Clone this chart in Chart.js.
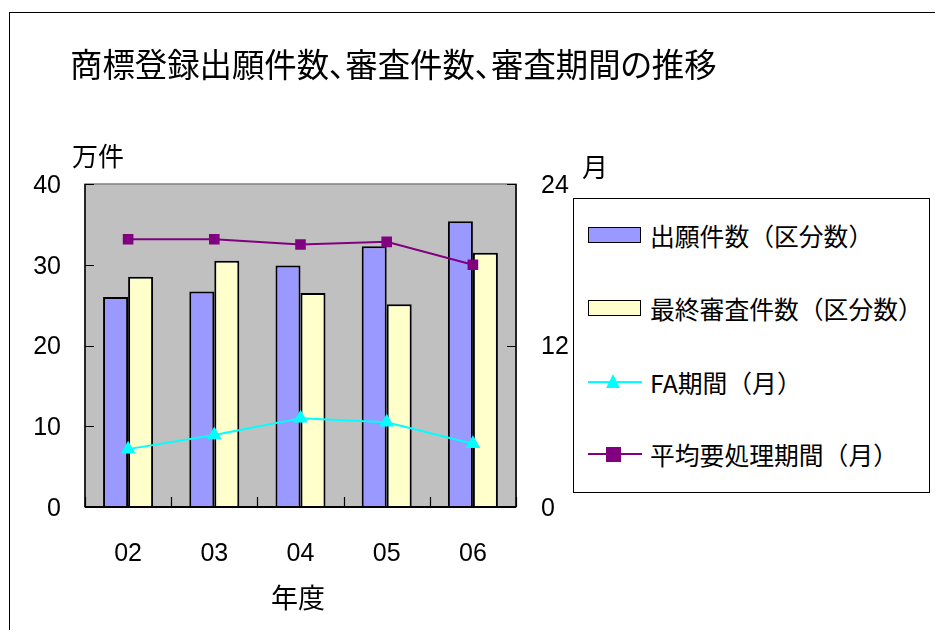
<!DOCTYPE html>
<html>
<head>
<meta charset="utf-8">
<script src="https://cdn.jsdelivr.net/npm/chart.js@4/dist/chart.umd.min.js"></script>
<style>
  html, body { margin: 0; padding: 0; background: #fff; }
  #wrap { position: relative; width: 935px; height: 630px; overflow: hidden; font-family: "Noto Sans CJK JP", sans-serif; color: #000; }
  #frame { position: absolute; left: 9px; top: 12px; width: 1000px; height: 700px; border-left: 1.5px solid #000; border-top: 1.5px solid #000; }
  canvas { position: absolute; left: 0; top: 0; }
  .txt { position: absolute; white-space: nowrap; line-height: 1; }
  #title { left: 70px; top: 47px; font-size: 32.4px; font-feature-settings: "palt"; }
  #uLeft { left: 72px; top: 142px; font-size: 26px; }
  #uRight { left: 582px; top: 153px; font-size: 26px; }
  #xTitle { left: 271px; top: 583px; font-size: 27px; }
  #legend { position: absolute; left: 573px; top: 198px; width: 355px; height: 293px; border: 1.5px solid #000; background: #fff; }
  .item { position: absolute; left: 14px; height: 30px; }
  .item .lab { position: absolute; left: 62px; top: 0; font-size: 24.8px; line-height: 30px; white-space: nowrap; }
  .sw { position: absolute; left: 0; top: 7px; width: 51px; height: 14px; border: 1.5px solid #000; }
  .ln { position: absolute; left: 0; top: 14px; width: 54px; height: 2px; }
  .tri { position: absolute; left: 18px; top: 7px; width: 0; height: 0; border-left: 7.5px solid transparent; border-right: 7.5px solid transparent; border-bottom: 14px solid #00FFFF; }
  .sq { position: absolute; left: 18px; top: 8px; width: 15px; height: 15px; }
</style>
</head>
<body>
<div id="wrap">
  <div id="frame"></div>
  <canvas id="c" width="935" height="630"></canvas>
  <div class="txt" id="title">商標登録出願件数、審査件数、審査期間の推移</div>
  <div class="txt" id="uLeft">万件</div>
  <div class="txt" id="uRight">月</div>
  <div class="txt" id="xTitle">年度</div>
  <div id="legend"></div>
</div>
<script>
// ---- data ----
const categories = ['02', '03', '04', '05', '06'];
const applications = [26.0, 26.7, 29.9, 32.3, 35.4];      // 出願件数（区分数）, 万件
const examinations = [28.5, 30.5, 26.5, 25.1, 31.5];      // 最終審査件数（区分数）, 万件
const faPeriod = [4.3, 5.35, 6.6, 6.3, 4.7];              // FA期間（月）
const avgPeriod = [19.9, 19.9, 19.5, 19.7, 18.0];         // 平均要処理期間（月）
const leftTicks = [0, 10, 20, 30, 40];
const rightTicks = [0, 12, 24];
const seriesLabels = ['出願件数（区分数）', '最終審査件数（区分数）', 'FA期間（月）', '平均要処理期間（月）'];

const colBlue = '#9999FF', colYellow = '#FFFFCC', colCyan = '#00FFFF', colPurple = '#800080', colPlot = '#C0C0C0';

const plotDeco = {
  id: 'plotDeco',
  beforeDatasetsDraw(chart) {
    const a = chart.chartArea, ctx = chart.ctx;
    ctx.save();
    ctx.fillStyle = colPlot;
    ctx.fillRect(a.left, a.top, a.right - a.left, a.bottom - a.top);
    ctx.restore();
  },
  afterDraw(chart) {
    const a = chart.chartArea, ctx = chart.ctx;
    const y = chart.scales.y, y1 = chart.scales.y1, x = chart.scales.x;
    ctx.save();
    ctx.strokeStyle = '#808080';
    ctx.lineWidth = 1.5;
    ctx.strokeRect(a.left, a.top, a.right - a.left, a.bottom - a.top);
    ctx.strokeStyle = '#000';
    ctx.lineWidth = 1.5;
    ctx.beginPath();
    ctx.moveTo(a.left, a.top); ctx.lineTo(a.left, a.bottom);
    ctx.moveTo(a.right, a.top); ctx.lineTo(a.right, a.bottom);
    ctx.stroke();
    ctx.lineWidth = 2;
    ctx.beginPath();
    ctx.moveTo(a.left, a.bottom); ctx.lineTo(a.right, a.bottom);
    ctx.stroke();
    ctx.lineWidth = 1.2;
    ctx.beginPath();
    leftTicks.forEach(v => { const py = Math.round(y.getPixelForValue(v)) + 0.5; ctx.moveTo(a.left, py); ctx.lineTo(a.left + 9, py); });
    rightTicks.forEach(v => { const py = Math.round(y1.getPixelForValue(v)) + 0.5; ctx.moveTo(a.right, py); ctx.lineTo(a.right - 9, py); });
    for (let i = 0; i <= categories.length; i++) {
      const px = Math.round(x.getPixelForValue(i - 0.5)) + 0.5;
      ctx.moveTo(px, a.bottom); ctx.lineTo(px, a.bottom - 10);
    }
    ctx.stroke();
    ctx.restore();
  }
};

const tickFont = { family: '"Liberation Sans", Arial, sans-serif', size: 25 };

new Chart(document.getElementById('c'), {
  data: {
    labels: categories,
    datasets: [
      { type: 'bar', label: seriesLabels[0], data: applications, backgroundColor: colBlue, borderColor: '#000', borderWidth: 2, yAxisID: 'y', order: 2, categoryPercentage: 0.58, barPercentage: 1.0 },
      { type: 'bar', label: seriesLabels[1], data: examinations, backgroundColor: colYellow, borderColor: '#000', borderWidth: 2, yAxisID: 'y', order: 2, categoryPercentage: 0.58, barPercentage: 1.0 },
      { type: 'line', label: seriesLabels[2], data: faPeriod, borderColor: colCyan, backgroundColor: colCyan, borderWidth: 2, pointStyle: 'triangle', pointRadius: 8.5, pointBorderWidth: 0, yAxisID: 'y1', order: 1, tension: 0 },
      { type: 'line', label: seriesLabels[3], data: avgPeriod, borderColor: colPurple, backgroundColor: colPurple, borderWidth: 2, pointStyle: 'rect', pointRadius: 7.5, pointBorderWidth: 0, yAxisID: 'y1', order: 0, tension: 0 }
    ]
  },
  options: {
    responsive: false,
    animation: false,
    events: [],
    layout: { padding: { top: 184, left: 0, right: 359, bottom: 0 } },
    plugins: { legend: { display: false }, tooltip: { enabled: false } },
    scales: {
      x: {
        offset: true,
        grid: { display: false, drawTicks: false },
        border: { display: false },
        ticks: { color: '#000', font: tickFont, padding: 32 },
        afterFit(s) { s.height = 123; }
      },
      y: {
        position: 'left', min: 0, max: 40,
        afterBuildTicks(s) { s.ticks = leftTicks.map(v => ({ value: v })); },
        grid: { display: false, drawTicks: false },
        border: { display: false },
        ticks: { color: '#000', font: tickFont, padding: 24, labelOffset: 2 },
        afterFit(s) { s.width = 85; }
      },
      y1: {
        position: 'right', min: 0, max: 24,
        afterBuildTicks(s) { s.ticks = rightTicks.map(v => ({ value: v })); },
        grid: { display: false, drawTicks: false },
        border: { display: false },
        ticks: { color: '#000', font: tickFont, padding: 25, labelOffset: 2 },
        afterFit(s) { s.width = 60; }
      }
    }
  },
  plugins: [plotDeco]
});

// HTML legend built from the series labels
const legend = document.getElementById('legend');
const tops = [21, 94, 168, 240];
seriesLabels.forEach((lab, i) => {
  const it = document.createElement('div');
  it.className = 'item';
  it.style.top = tops[i] + 'px';
  let mark = '';
  if (i === 0) mark = '<div class="sw" style="background:' + colBlue + '"></div>';
  if (i === 1) mark = '<div class="sw" style="background:' + colYellow + '"></div>';
  if (i === 2) mark = '<div class="ln" style="background:' + colCyan + '"></div><div class="tri"></div>';
  if (i === 3) mark = '<div class="ln" style="background:' + colPurple + '"></div><div class="sq" style="background:' + colPurple + '"></div>';
  it.innerHTML = mark + '<div class="lab">' + lab + '</div>';
  legend.appendChild(it);
});
</script>
</body>
</html>
